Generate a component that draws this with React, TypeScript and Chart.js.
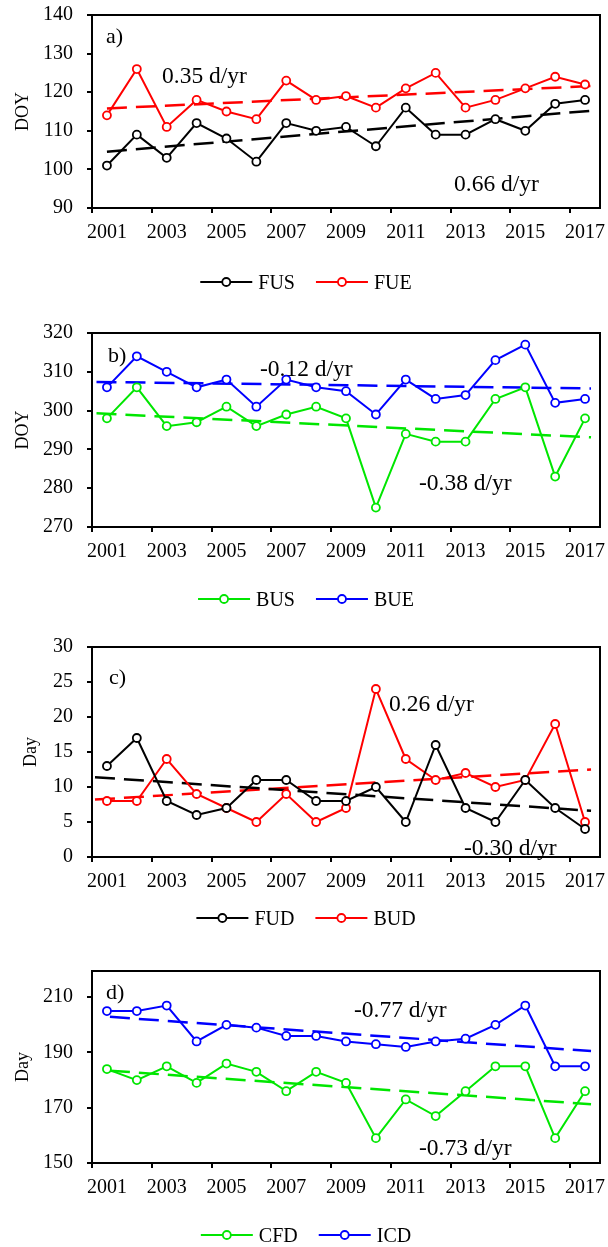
import React, { useEffect, useRef } from 'react';
import { Chart, registerables } from 'chart.js';

Chart.register(...registerables);

const FONT = "'Liberation Serif', 'Times New Roman', serif";

const YEARS = ['2001', '2002', '2003', '2004', '2005', '2006', '2007', '2008', '2009', '2010', '2011', '2012', '2013', '2014', '2015', '2016', '2017'];

// Panel a
const FUS = [101, 109, 103, 112, 108, 102, 112, 110, 111, 106, 116, 109, 109, 113, 110, 117, 118];
const FUE = [114, 126, 111, 118, 115, 113, 123, 118, 119, 116, 121, 125, 116, 118, 121, 124, 122];
const FUS_TREND = [104.6, 115.2];
const FUE_TREND = [115.8, 121.6];
const A_TICKS = [90, 100, 110, 120, 130, 140];
const A_NOTES = ['0.35 d/yr', '0.66 d/yr'];

// Panel b
const BUS = [298, 306, 296, 297, 301, 296, 299, 301, 298, 275, 294, 292, 292, 303, 306, 283, 298];
const BUE = [306, 314, 310, 306, 308, 301, 308, 306, 305, 299, 308, 303, 304, 313, 317, 302, 303];
const BUS_TREND = [299.3, 293.1];
const BUE_TREND = [307.4, 305.7];
const B_TICKS = [270, 280, 290, 300, 310, 320];
const B_NOTES = ['-0.12 d/yr', '-0.38 d/yr'];

// Panel c
const FUD = [13, 17, 8, 6, 7, 11, 11, 8, 8, 10, 5, 16, 7, 5, 11, 7, 4];
const BUD = [8, 8, 14, 9, 7, 5, 9, 5, 7, 24, 14, 11, 12, 10, 11, 19, 5];
const FUD_TREND = [11.4, 6.6];
const BUD_TREND = [8.2, 12.5];
const C_TICKS = [0, 5, 10, 15, 20, 25, 30];
const C_NOTES = ['0.26 d/yr', '-0.30 d/yr'];

// Panel d
const CFD = [184, 180, 185, 179, 186, 183, 176, 183, 179, 159, 173, 167, 176, 185, 185, 159, 176];
const ICD = [205, 205, 207, 194, 200, 199, 196, 196, 194, 193, 192, 194, 195, 200, 207, 185, 185];
const CFD_TREND = [183.4, 171.3];
const ICD_TREND = [202.9, 190.5];
const D_TICKS = [150, 170, 190, 210];
const D_NOTES = ['-0.77 d/yr', '-0.73 d/yr'];

const BLACK = '#000000';
const RED = '#ff0000';
const GREEN = '#00e600';
const BLUE = '#0000ff';

type Series = { label: string; values: number[]; trend: number[]; color: string };
type Note = { text: string; x: number; y: number };
type PanelCfg = {
  top: number; height: number; padTop: number; padBottom: number;
  yMin: number; yMax: number; yTicks: number[];
  title: string; titleX: number;
  tag: string; tagX: number; tagY: number;
  notes: Note[]; legendY: number;
  trendX: number[];
  series: Series[];
};

const PANELS: PanelCfg[] = [
  {
    top: 0, height: 305, padTop: 15, padBottom: 57,
    yMin: 90, yMax: 140, yTicks: A_TICKS,
    title: 'DOY', titleX: 28, tag: 'a)', tagX: 106, tagY: 43,
    notes: [{ text: A_NOTES[0], x: 162, y: 83 }, { text: A_NOTES[1], x: 454, y: 191 }],
    legendY: 282, trendX: [0, 16.2],
    series: [
      { label: 'FUS', values: FUS, trend: FUS_TREND, color: BLACK },
      { label: 'FUE', values: FUE, trend: FUE_TREND, color: RED },
    ],
  },
  {
    top: 305, height: 315, padTop: 28, padBottom: 53,
    yMin: 270, yMax: 320, yTicks: B_TICKS,
    title: 'DOY', titleX: 28, tag: 'b)', tagX: 108, tagY: 57,
    notes: [{ text: B_NOTES[0], x: 260, y: 71 }, { text: B_NOTES[1], x: 419, y: 185 }],
    legendY: 294, trendX: [-0.35, 16.2],
    series: [
      { label: 'BUS', values: BUS, trend: BUS_TREND, color: GREEN },
      { label: 'BUE', values: BUE, trend: BUE_TREND, color: BLUE },
    ],
  },
  {
    top: 620, height: 315, padTop: 27, padBottom: 38,
    yMin: 0, yMax: 30, yTicks: C_TICKS,
    title: 'Day', titleX: 36, tag: 'c)', tagX: 109, tagY: 64,
    notes: [{ text: C_NOTES[0], x: 389, y: 91 }, { text: C_NOTES[1], x: 464, y: 235 }],
    legendY: 298, trendX: [-0.4, 16.2],
    series: [
      { label: 'FUD', values: FUD, trend: FUD_TREND, color: BLACK },
      { label: 'BUD', values: BUD, trend: BUD_TREND, color: RED },
    ],
  },
  {
    top: 935, height: 312, padTop: 36, padBottom: 44,
    yMin: 150, yMax: 219.5, yTicks: D_TICKS,
    title: 'Day', titleX: 28, tag: 'd)', tagX: 106, tagY: 64,
    notes: [{ text: D_NOTES[0], x: 354, y: 82 }, { text: D_NOTES[1], x: 419, y: 220 }],
    legendY: 300, trendX: [0.1, 16.2],
    series: [
      { label: 'CFD', values: CFD, trend: CFD_TREND, color: GREEN },
      { label: 'ICD', values: ICD, trend: ICD_TREND, color: BLUE },
    ],
  },
];

function xTickValues(): number[] {
  const out: number[] = [];
  for (let i = 0; i < YEARS.length; i += 2) {
    out.push(i - 0.5);
    out.push(i);
  }
  return out;
}

function Panel({ cfg }: { cfg: PanelCfg }) {
  const ref = useRef<HTMLCanvasElement | null>(null);

  useEffect(() => {
    if (!ref.current) return;
    const datasets: any[] = [];
    cfg.series.forEach((s) => {
      datasets.push({
        label: s.label,
        data: s.values.map((v, i) => ({ x: i, y: v })),
        borderColor: s.color,
        backgroundColor: '#ffffff',
        borderWidth: 2,
        pointRadius: 4,
        pointBorderWidth: 1.8,
        pointBackgroundColor: '#ffffff',
        pointBorderColor: s.color,
        tension: 0,
        order: 0,
      });
    });
    cfg.series.forEach((s) => {
      datasets.push({
        label: s.label + ' trend',
        data: [{ x: cfg.trendX[0], y: s.trend[0] }, { x: cfg.trendX[1], y: s.trend[1] }],
        borderColor: s.color,
        borderWidth: 2.5,
        borderDash: [20, 9],
        pointRadius: 0,
        tension: 0,
        order: 1,
      });
    });

    const overlay = {
      id: 'overlay',
      afterDraw(chart: any) {
        const ctx = chart.ctx as CanvasRenderingContext2D;
        const ca = chart.chartArea;
        ctx.save();
        // frame
        ctx.strokeStyle = '#000';
        ctx.lineWidth = 2;
        ctx.strokeRect(ca.left, ca.top, ca.right - ca.left, ca.bottom - ca.top);
        ctx.fillStyle = '#000';
        // axis title
        ctx.save();
        ctx.font = `18px ${FONT}`;
        ctx.translate(cfg.titleX, (ca.top + ca.bottom) / 2);
        ctx.rotate(-Math.PI / 2);
        ctx.textAlign = 'center';
        ctx.textBaseline = 'alphabetic';
        ctx.fillText(cfg.title, 0, 0);
        ctx.restore();
        // panel tag
        ctx.font = `22px ${FONT}`;
        ctx.textAlign = 'left';
        ctx.textBaseline = 'alphabetic';
        ctx.fillText(cfg.tag, cfg.tagX, cfg.tagY);
        // trend notes
        ctx.font = `23.5px ${FONT}`;
        cfg.notes.forEach((n) => ctx.fillText(n.text, n.x, n.y));
        // legend
        ctx.font = `20px ${FONT}`;
        const lineLen = 52;
        const textGap = 6;
        const gap = 21;
        const widths = cfg.series.map((s) => lineLen + textGap + ctx.measureText(s.label).width);
        const total = widths.reduce((a, b) => a + b, 0) + gap * (widths.length - 1);
        let x = 306 - total / 2;
        const y = cfg.legendY;
        cfg.series.forEach((s, i) => {
          ctx.strokeStyle = s.color;
          ctx.lineWidth = 2;
          ctx.beginPath();
          ctx.moveTo(x, y);
          ctx.lineTo(x + lineLen, y);
          ctx.stroke();
          ctx.beginPath();
          ctx.arc(x + lineLen / 2, y, 4, 0, Math.PI * 2);
          ctx.fillStyle = '#fff';
          ctx.fill();
          ctx.lineWidth = 1.8;
          ctx.stroke();
          ctx.fillStyle = '#000';
          ctx.fillText(s.label, x + lineLen + textGap, y + 6.6);
          x += widths[i] + gap;
        });
        ctx.restore();
      },
    };

    const chart = new Chart(ref.current, {
      type: 'line',
      data: { datasets },
      options: {
        animation: false,
        responsive: false,
        maintainAspectRatio: false,
        devicePixelRatio: 1,
        layout: { padding: { left: 0, right: 8, top: cfg.padTop, bottom: cfg.padBottom } },
        plugins: { legend: { display: false }, tooltip: { enabled: false } },
        scales: {
          x: {
            type: 'linear',
            min: -0.5,
            max: 16.5,
            bounds: 'data',
            afterBuildTicks: (scale: any) => {
              scale.ticks = xTickValues().map((v) => ({ value: v }));
            },
            afterFit: (scale: any) => {
              scale.height = 40;
              scale.paddingLeft = 0;
              scale.paddingRight = 0;
            },
            ticks: {
              autoSkip: false,
              maxRotation: 0,
              minRotation: 0,
              padding: 8,
              color: '#000',
              font: { family: FONT, size: 20 },
              callback: (v: any) => (Number.isInteger(v) ? YEARS[v] : ''),
            },
            grid: {
              drawOnChartArea: false,
              tickLength: 5,
              lineWidth: 2,
              color: (ctx: any) => (ctx.tick && Number.isInteger(ctx.tick.value) ? 'rgba(0,0,0,0)' : '#000'),
            },
            border: { display: true, color: '#000', width: 2 },
          },
          y: {
            type: 'linear',
            min: cfg.yMin,
            max: cfg.yMax,
            bounds: 'data',
            afterBuildTicks: (scale: any) => {
              scale.ticks = cfg.yTicks.map((v) => ({ value: v }));
            },
            afterFit: (scale: any) => {
              scale.width = 92;
              scale.paddingTop = 0;
              scale.paddingBottom = 0;
            },
            ticks: {
              autoSkip: false,
              padding: 14,
              color: '#000',
              font: { family: FONT, size: 20 },
              callback: (v: any) => String(v),
            },
            grid: { drawOnChartArea: false, tickLength: 5, lineWidth: 2, color: '#000' },
            border: { display: true, color: '#000', width: 2 },
          },
        },
      },
      plugins: [overlay],
    } as any);
    return () => chart.destroy();
  }, [cfg]);

  return (
    <canvas
      ref={ref}
      width={608}
      height={cfg.height}
      style={{ position: 'absolute', left: 0, top: cfg.top, width: 608, height: cfg.height }}
    />
  );
}

export default function App() {
  return (
    <div style={{ position: 'absolute', left: 0, top: 0, width: 608, height: 1247, background: '#fff', overflow: 'hidden' }}>
      {PANELS.map((p, i) => (
        <Panel key={i} cfg={p} />
      ))}
    </div>
  );
}
